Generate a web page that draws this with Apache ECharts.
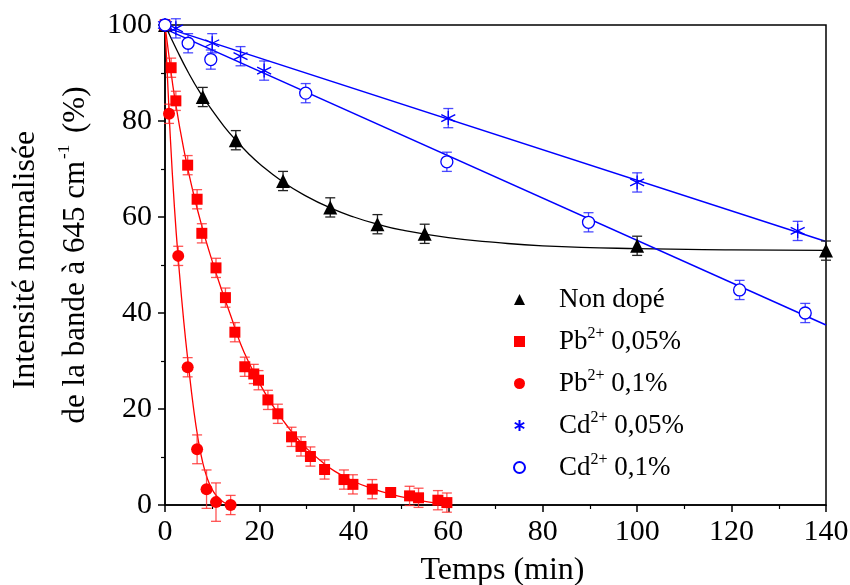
<!DOCTYPE html>
<html><head><meta charset="utf-8">
<script src="https://cdn.jsdelivr.net/npm/echarts@6/dist/echarts.min.js"></script>
<style>html,body{margin:0;padding:0;background:#fff}#c{width:850px;height:585px}</style>
</head><body><div id="c"></div>
<script>
// ---- data ----
const nonDopeX = [0, 8, 15, 25, 35, 45, 55, 100, 140];
const nonDopeY = [100, 85, 76, 67.5, 62, 58.5, 56.5, 54, 53];
const nonDopeErr = [1, 2, 2, 2, 2, 2, 2, 2, 2];
const nonDopeFitX = [0, 2.5, 5, 7.5, 10, 12.5, 15, 17.5, 20, 25, 30, 35, 40, 45, 50, 60, 70, 80, 100, 120, 140];
const nonDopeFitY = [100, 94.8, 90, 85.8, 82.2, 78.9, 76, 73.4, 71.1, 67.3, 64.3, 61.9, 60, 58.5, 57.3, 55.7, 54.7, 54, 53.4, 53.15, 53.05];

const pb05X = [0, 1.3, 2.3, 4.8, 6.8, 7.8, 10.8, 12.8, 14.8, 16.9, 18.8, 19.8, 21.8, 23.9, 26.8, 28.8, 30.8, 33.8, 37.9, 39.8, 43.9, 47.8, 51.8, 53.7, 57.8, 59.7];
const pb05Y = [100, 91.1, 84.2, 70.8, 63.7, 56.6, 49.4, 43.2, 36, 28.8, 27.3, 26, 21.9, 19, 14.2, 12.2, 10.1, 7.4, 5.3, 4.3, 3.3, 2.6, 1.9, 1.5, 1.0, 0.5];
const pb05Err = [1, 2, 2, 2, 2, 2, 2, 2, 2, 2, 2, 2, 2, 2, 2, 2, 2, 2, 2, 2, 2, 0.5, 2, 2, 2, 2];
const pb05FitX = [0, 1, 2, 4, 6, 8, 10, 12, 14, 16, 18, 20, 22, 24, 26, 28, 30, 33, 36, 40, 44, 48, 52, 56, 60];
const pb05FitY = [100, 92.3, 85.2, 74, 65, 57.4, 50.8, 44.8, 39.2, 33.6, 29.2, 25.4, 22, 19, 16.3, 13.9, 11.8, 9.2, 7, 4.9, 3.4, 2.2, 1.3, 0.6, 0.2];

const pb1X = [0, 0.85, 2.8, 4.8, 6.8, 8.8, 10.8, 13.9];
const pb1Y = [100, 81.5, 51.9, 28.7, 11.6, 3.3, 0.6, 0];
const pb1Err = [1, 2, 2, 2, 3, 4, 4, 2];
const pb1FitX = [0, 1, 2, 3, 4, 5, 6, 7, 8, 9, 10, 11, 12, 13, 14];
const pb1FitY = [100, 79, 62, 49, 38, 28.8, 20.5, 13.8, 8.8, 5.4, 3.2, 1.8, 0.9, 0.3, 0];

const cd05X = [0, 2.3, 10, 16, 21, 60, 100, 134];
const cd05Y = [100, 99.3, 96.2, 93.5, 90.5, 80.6, 67.2, 57.1];
const cd05Err = [1, 2, 2, 2, 2, 2, 2, 2];
const cd05FitX = [0, 140];
const cd05FitY = [99.5, 54.9];

const cd1X = [0, 4.9, 9.7, 29.8, 59.7, 89.7, 121.7, 135.6];
const cd1Y = [100, 96.2, 92.8, 85.8, 71.5, 58.9, 44.8, 40];
const cd1Err = [1, 2, 2, 2, 2, 2, 2, 2];
const cd1FitX = [0, 140];
const cd1FitY = [99.2, 37.5];

const xTicks = [0, 20, 40, 60, 80, 100, 120, 140];
const yTicks = [0, 20, 40, 60, 80, 100];

const names = ['Non dopé', 'Pb2+ 0,05%', 'Pb2+ 0,1%', 'Cd2+ 0,05%', 'Cd2+ 0,1%'];
const legendLabels = {
  'Non dopé': '{n|Non dopé}',
  'Pb2+ 0,05%': '{n|Pb}{s|2+}{n| 0,05%}',
  'Pb2+ 0,1%': '{n|Pb}{s|2+}{n| 0,1%}',
  'Cd2+ 0,05%': '{n|Cd}{s|2+}{n| 0,05%}',
  'Cd2+ 0,1%': '{n|Cd}{s|2+}{n| 0,1%}'
};

// ---- build ----
const FONT = '"Liberation Serif", "DejaVu Serif", serif';
const zip = (a, b) => a.map((v, i) => [v, b[i]]);
const errData = (x, y, e) => x.map((v, i) => [v, y[i] - e[i], y[i] + e[i]]);
const asterisk = 'path://M0,-10L0,10M-8.66,-5L8.66,5M-8.66,5L8.66,-5';

function errSeries(x, y, e, color) {
  return {
    type: 'custom', silent: true, z: 3,
    renderItem: function (params, api) {
      const xv = api.value(0);
      const lo = api.coord([xv, api.value(1)]);
      const hi = api.coord([xv, api.value(2)]);
      const w = 5;
      const st = { stroke: color, lineWidth: 1.3, fill: null };
      return {
        type: 'group', children: [
          { type: 'line', shape: { x1: lo[0], y1: lo[1], x2: hi[0], y2: hi[1] }, style: st },
          { type: 'line', shape: { x1: lo[0] - w, y1: lo[1], x2: lo[0] + w, y2: lo[1] }, style: st },
          { type: 'line', shape: { x1: hi[0] - w, y1: hi[1], x2: hi[0] + w, y2: hi[1] }, style: st }
        ]
      };
    },
    encode: { x: 0, y: [1, 2] },
    data: errData(x, y, e)
  };
}
function fitSeries(x, y, color, w) {
  return {
    type: 'line', data: zip(x, y), symbol: 'none', smooth: 0.5,
    lineStyle: { color: color, width: w }, z: 2, silent: true
  };
}

const series = [
  fitSeries(nonDopeFitX, nonDopeFitY, '#000', 1.3),
  fitSeries(pb05FitX, pb05FitY, '#ff0000', 1.3),
  fitSeries(pb1FitX, pb1FitY, '#ff0000', 1.3),
  fitSeries(cd05FitX, cd05FitY, '#0000ff', 1.5),
  fitSeries(cd1FitX, cd1FitY, '#0000ff', 1.5),
  errSeries(nonDopeX, nonDopeY, nonDopeErr, '#222'),
  errSeries(pb05X, pb05Y, pb05Err, 'rgba(255,40,40,0.8)'),
  errSeries(pb1X, pb1Y, pb1Err, 'rgba(255,40,40,0.8)'),
  errSeries(cd05X, cd05Y, cd05Err, 'rgba(30,30,255,0.8)'),
  errSeries(cd1X, cd1Y, cd1Err, 'rgba(30,30,255,0.8)'),
  { name: names[0], type: 'scatter', data: zip(nonDopeX, nonDopeY), symbol: 'triangle', symbolSize: 14, itemStyle: { color: '#000', opacity: 1 }, z: 5 },
  { name: names[1], type: 'scatter', data: zip(pb05X, pb05Y), symbol: 'rect', symbolSize: 11, itemStyle: { color: '#ff0000', opacity: 1 }, z: 5 },
  { name: names[2], type: 'scatter', data: zip(pb1X, pb1Y), symbol: 'circle', symbolSize: 12, itemStyle: { color: '#ff0000', opacity: 1 }, z: 5 },
  { name: names[3], type: 'scatter', data: zip(cd05X, cd05Y), symbol: asterisk, symbolSize: 14, itemStyle: { color: 'rgba(0,0,0,0)', borderColor: '#0000ff', borderWidth: 1.3, opacity: 1 }, z: 5 },
  { name: names[4], type: 'scatter', data: zip(cd1X, cd1Y), symbol: 'circle', symbolSize: 12, itemStyle: { color: '#fff', borderColor: '#0000ff', borderWidth: 1.3, opacity: 1 }, z: 5 }
];

const chart = echarts.init(document.getElementById('c'), null, { renderer: 'canvas' });
chart.setOption({
  animation: false,
  backgroundColor: '#fff',
  grid: { left: 165, right: 24, top: 25, bottom: 80, show: true, borderColor: '#000', borderWidth: 1.5, backgroundColor: 'transparent', containLabel: false, outerBoundsMode: 'none' },
  xAxis: {
    type: 'value', min: 0, max: 140, interval: 20,
    name: 'Temps (min)', nameLocation: 'middle', nameGap: 50,
    nameTextStyle: { fontFamily: FONT, fontSize: 32, color: '#000', padding: [0, 0, 0, 14] },
    axisLine: { show: true, lineStyle: { color: '#000', width: 1.5 } },
    axisTick: { show: true, inside: false, length: 7, lineStyle: { color: '#000', width: 1.5 } },
    minorTick: { show: true, splitNumber: 2, length: 4, lineStyle: { color: '#000', width: 1.2 } },
    axisLabel: { fontFamily: FONT, fontSize: 30, color: '#000', margin: 12, formatter: v => xTicks.includes(v) ? String(v) : '' },
    splitLine: { show: false }
  },
  yAxis: {
    type: 'value', min: 0, max: 100, interval: 20,
    axisLine: { show: true, lineStyle: { color: '#000', width: 1.5 } },
    axisTick: { show: true, inside: false, length: 7, lineStyle: { color: '#000', width: 1.5 } },
    minorTick: { show: true, splitNumber: 2, length: 4, lineStyle: { color: '#000', width: 1.2 } },
    axisLabel: { fontFamily: FONT, fontSize: 30, color: '#000', margin: 13, formatter: v => yTicks.includes(v) ? String(v) : '' },
    splitLine: { show: false }
  },
  legend: {
    data: names, orient: 'vertical', left: 508, top: 281,
    itemWidth: 11, itemHeight: 11, itemGap: 12.5,
    formatter: name => legendLabels[name],
    textStyle: {
      color: '#000', padding: [0, 0, 0, 29],
      rich: {
        n: { fontFamily: FONT, fontSize: 27, color: '#000', lineHeight: 32 },
        s: { fontFamily: FONT, fontSize: 16, color: '#000', verticalAlign: 'top', lineHeight: 32 }
      }
    }
  },
  graphic: [
    { type: 'text', x: 26, y: 260, rotation: Math.PI / 2,
      style: { text: 'Intensité normalisée', font: '32px ' + FONT, fill: '#000', align: 'center', verticalAlign: 'middle' } },
    { type: 'text', x: 76, y: 255, rotation: Math.PI / 2,
      style: { text: '{n|de la bande à 645 cm}{s|-1}{n| (%)}', align: 'center', verticalAlign: 'middle',
        rich: {
          n: { fontFamily: FONT, fontSize: 31, fill: '#000', lineHeight: 40 },
          s: { fontFamily: FONT, fontSize: 17, fill: '#000', verticalAlign: 'top', lineHeight: 40, padding: [0, 4, 0, 2] }
        } } }
  ],
  series: series
});
</script></body></html>
